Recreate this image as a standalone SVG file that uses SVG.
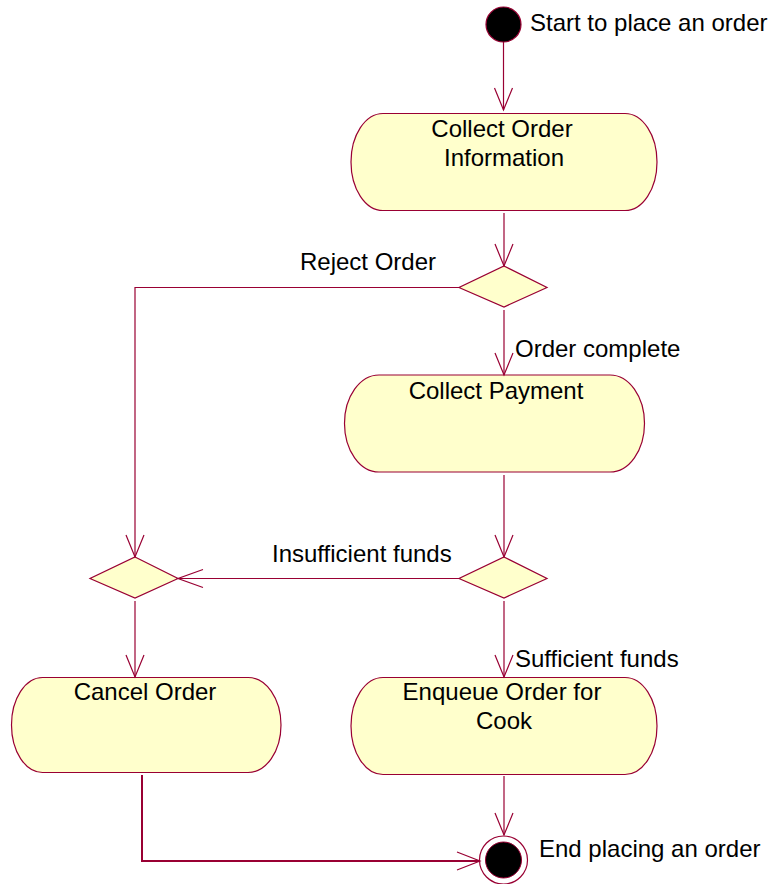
<svg xmlns="http://www.w3.org/2000/svg" width="772" height="884" viewBox="0 0 772 884">
<style>
.shape{fill:#FFFFCC;stroke:#990033;stroke-width:1.2}
.edge{fill:none;stroke:#990033;stroke-width:1.2}
.thick{fill:none;stroke:#990033;stroke-width:2}
.head{fill:none;stroke:#990033;stroke-width:1.2}
text{font-family:"Liberation Sans",Arial,sans-serif;font-size:24px;fill:#000}
.c{text-anchor:middle}
</style>
<rect width="772" height="884" fill="#fff"/>
<g id="start">
<circle cx="503.5" cy="24.5" r="17.5" fill="#000" stroke="#990033" stroke-width="1.2"/>
<text x="530" y="31">Start to place an order</text>
</g>
<g id="collect-order">
<path class="shape" d="M383,113.5 L625,113.5 A32,48.5 0 0 1 625,210.5 L383,210.5 A32,48.5 0 0 1 383,113.5 Z"/>
<text class="c" x="502" y="137">Collect Order</text>
<text class="c" x="504" y="166">Information</text>
</g>
<g id="decision1">
<polygon class="shape" points="504,266 547,287.5 504,307 459,287.5"/>
</g>
<g id="collect-payment">
<path class="shape" d="M379,375 L610,375 A34.5,48.5 0 0 1 610,472 L379,472 A34.5,48.5 0 0 1 379,375 Z"/>
<text class="c" x="496" y="399">Collect Payment</text>
</g>
<g id="decision2">
<polygon class="shape" points="504,557 547,578.5 504,598 459,578.5"/>
</g>
<g id="merge">
<polygon class="shape" points="135,557 178,578.5 135,598 90,578.5"/>
</g>
<g id="cancel-order">
<path class="shape" d="M42.5,677.5 L248,677.5 A33,47.5 0 0 1 248,772.5 L42.5,772.5 A31,47.5 0 0 1 42.5,677.5 Z"/>
<text class="c" x="145" y="700">Cancel Order</text>
</g>
<g id="enqueue">
<path class="shape" d="M383,677.5 L625,677.5 A32,48.5 0 0 1 625,774.5 L383,774.5 A32,48.5 0 0 1 383,677.5 Z"/>
<text class="c" x="502" y="700">Enqueue Order for</text>
<text class="c" x="504" y="729">Cook</text>
</g>
<g id="end">
<circle cx="503.5" cy="860" r="24" fill="#fff" stroke="#990033" stroke-width="1.2"/>
<circle cx="503.5" cy="860" r="18" fill="#000" stroke="#990033" stroke-width="1"/>
<text x="539" y="857">End placing an order</text>
</g>
<g id="connectors">
<path class="edge" d="M503.5,42 V110"/>
<path class="head" d="M494.5,88 L503.5,110 L512.5,88"/>
<path class="edge" d="M504,213 V266"/>
<path class="head" d="M495,244 L504,266 L513,244"/>
<path class="edge" d="M459,287.5 H135 V557"/>
<path class="head" d="M126,535 L135,557 L144,535"/>
<text x="300" y="270">Reject Order</text>
<path class="edge" d="M504,310 V375"/>
<path class="head" d="M495,353 L504,375 L513,353"/>
<text x="515" y="357">Order complete</text>
<path class="edge" d="M504,475 V557"/>
<path class="head" d="M495,535 L504,557 L513,535"/>
<path class="edge" d="M459,578.5 H178"/>
<path class="head" d="M203,569.5 L178,578.5 L203,587.5"/>
<text x="272" y="562">Insufficient funds</text>
<path class="edge" d="M135,601 V677"/>
<path class="head" d="M126,655 L135,677 L144,655"/>
<path class="edge" d="M504,601 V677"/>
<path class="head" d="M495,655 L504,677 L513,655"/>
<text x="515" y="667">Sufficient funds</text>
<path class="edge" d="M504,776 V835"/>
<path class="head" d="M495,813 L504,835 L513,813"/>
<path class="thick" d="M142,775 V861 H479"/>
<path class="head" d="M457,852 L480,861 L457,870"/>
</g>
</svg>
